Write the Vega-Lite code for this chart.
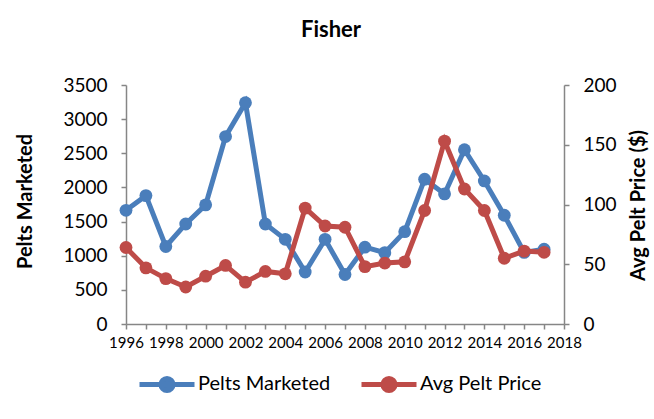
{
  "$schema": "https://vega.github.io/schema/vega-lite/v6.json",
  "autosize": "none",
  "width": 438,
  "height": 239,
  "padding": {"left": 126, "top": 85, "right": 90, "bottom": 95},
  "background": "white",
  "config": {
    "font": "Lato",
    "view": {"stroke": null},
    "axis": {"grid": false, "domainColor": "#868686", "tickColor": "#868686", "domainWidth": 1.5, "tickWidth": 1.5, "labelColor": "#000000", "titleColor": "#000000", "labelFont": "Lato", "titleFont": "Lato"}
  },
  "title": {"text": "Fisher", "fontSize": 22, "fontWeight": "bold", "font": "Lato", "color": "#000000", "anchor": "middle", "dx": -14, "offset": 34},
  "data": {"values": [
    {"year": 1996, "pelts": 1665, "price": 64},
    {"year": 1997, "pelts": 1880, "price": 47},
    {"year": 1998, "pelts": 1135, "price": 38},
    {"year": 1999, "pelts": 1465, "price": 31},
    {"year": 2000, "pelts": 1745, "price": 40},
    {"year": 2001, "pelts": 2745, "price": 49},
    {"year": 2002, "pelts": 3240, "price": 35},
    {"year": 2003, "pelts": 1465, "price": 44},
    {"year": 2004, "pelts": 1240, "price": 42},
    {"year": 2005, "pelts": 762, "price": 97},
    {"year": 2006, "pelts": 1240, "price": 82},
    {"year": 2007, "pelts": 725, "price": 81},
    {"year": 2008, "pelts": 1125, "price": 48},
    {"year": 2009, "pelts": 1045, "price": 51},
    {"year": 2010, "pelts": 1352, "price": 52},
    {"year": 2011, "pelts": 2120, "price": 95},
    {"year": 2012, "pelts": 1905, "price": 153},
    {"year": 2013, "pelts": 2552, "price": 113},
    {"year": 2014, "pelts": 2095, "price": 95},
    {"year": 2015, "pelts": 1592, "price": 55},
    {"year": 2016, "pelts": 1048, "price": 61},
    {"year": 2017, "pelts": 1095, "price": 60}
  ]},
  "encoding": {
    "x": {"field": "year", "type": "quantitative", "scale": {"domain": [1996, 2018], "nice": false, "zero": false},
      "axis": {"title": null, "values": [1996,1997,1998,1999,2000,2001,2002,2003,2004,2005,2006,2007,2008,2009,2010,2011,2012,2013,2014,2015,2016,2017,2018],
        "labelExpr": "datum.value % 2 == 0 ? datum.value + '' : ''", "labelFontSize": 15, "tickSize": 5, "labelPadding": 6, "labelFlush": false, "labelOverlap": false}}
  },
  "layer": [
    {
      "layer": [
        {"mark": {"type": "line", "strokeWidth": 5}, "encoding": {"color": {"datum": "Pelts Marketed", "type": "nominal",
          "scale": {"domain": ["Pelts Marketed", "Avg Pelt Price"], "range": ["#4A7EBB", "#BE4B48"]},
          "legend": {"orient": "none", "legendX": 11, "legendY": 269, "direction": "horizontal", "title": null,
            "symbolType": "M-1,0H1M-0.22,0a0.22,0.22 0 1,0 0.44,0a0.22,0.22 0 1,0 -0.44,0", "symbolSize": 3025, "symbolStrokeWidth": 5,
            "labelFontSize": 20, "labelColor": "#000000", "labelOffset": 1, "columnPadding": 20, "labelFont": "Lato",
            "encode": {"symbols": {"update": {"fill": {"scale": "color", "field": "value"}, "stroke": {"scale": "color", "field": "value"}, "opacity": {"value": 1}}}}}}}},
        {"mark": {"type": "point", "filled": true, "opacity": 1, "size": 165}, "encoding": {"color": {"datum": "Pelts Marketed", "type": "nominal"}}}
      ],
      "encoding": {
        "y": {"field": "pelts", "type": "quantitative", "scale": {"domain": [0, 3500], "nice": false},
          "axis": {"title": "Pelts Marketed", "format": "d", "values": [0,500,1000,1500,2000,2500,3000,3500], "labelFontSize": 19, "tickSize": 5, "labelPadding": 14,
            "titleFontSize": 20, "titleFontWeight": "bold", "titleAngle": 270, "titleX": -101, "titleY": 116, "titleAlign": "center", "titleBaseline": "middle"}}
      }
    },
    {
      "layer": [
        {"mark": {"type": "line", "strokeWidth": 5}, "encoding": {"color": {"datum": "Avg Pelt Price", "type": "nominal"}}},
        {"mark": {"type": "point", "filled": true, "opacity": 1, "size": 165}, "encoding": {"color": {"datum": "Avg Pelt Price", "type": "nominal"}}}
      ],
      "encoding": {
        "y": {"field": "price", "type": "quantitative", "scale": {"domain": [0, 200], "nice": false},
          "axis": {"orient": "right", "title": "Avg Pelt Price ($)", "format": "d", "values": [0,50,100,150,200], "labelFontSize": 19, "tickSize": 5, "labelPadding": 14,
            "titleFontSize": 20, "titleFontWeight": "bold", "titleAngle": 270, "titleX": 74, "titleY": 120, "titleAlign": "center", "titleBaseline": "middle"}}
      }
    }
  ],
  "resolve": {"scale": {"y": "independent"}}
}
